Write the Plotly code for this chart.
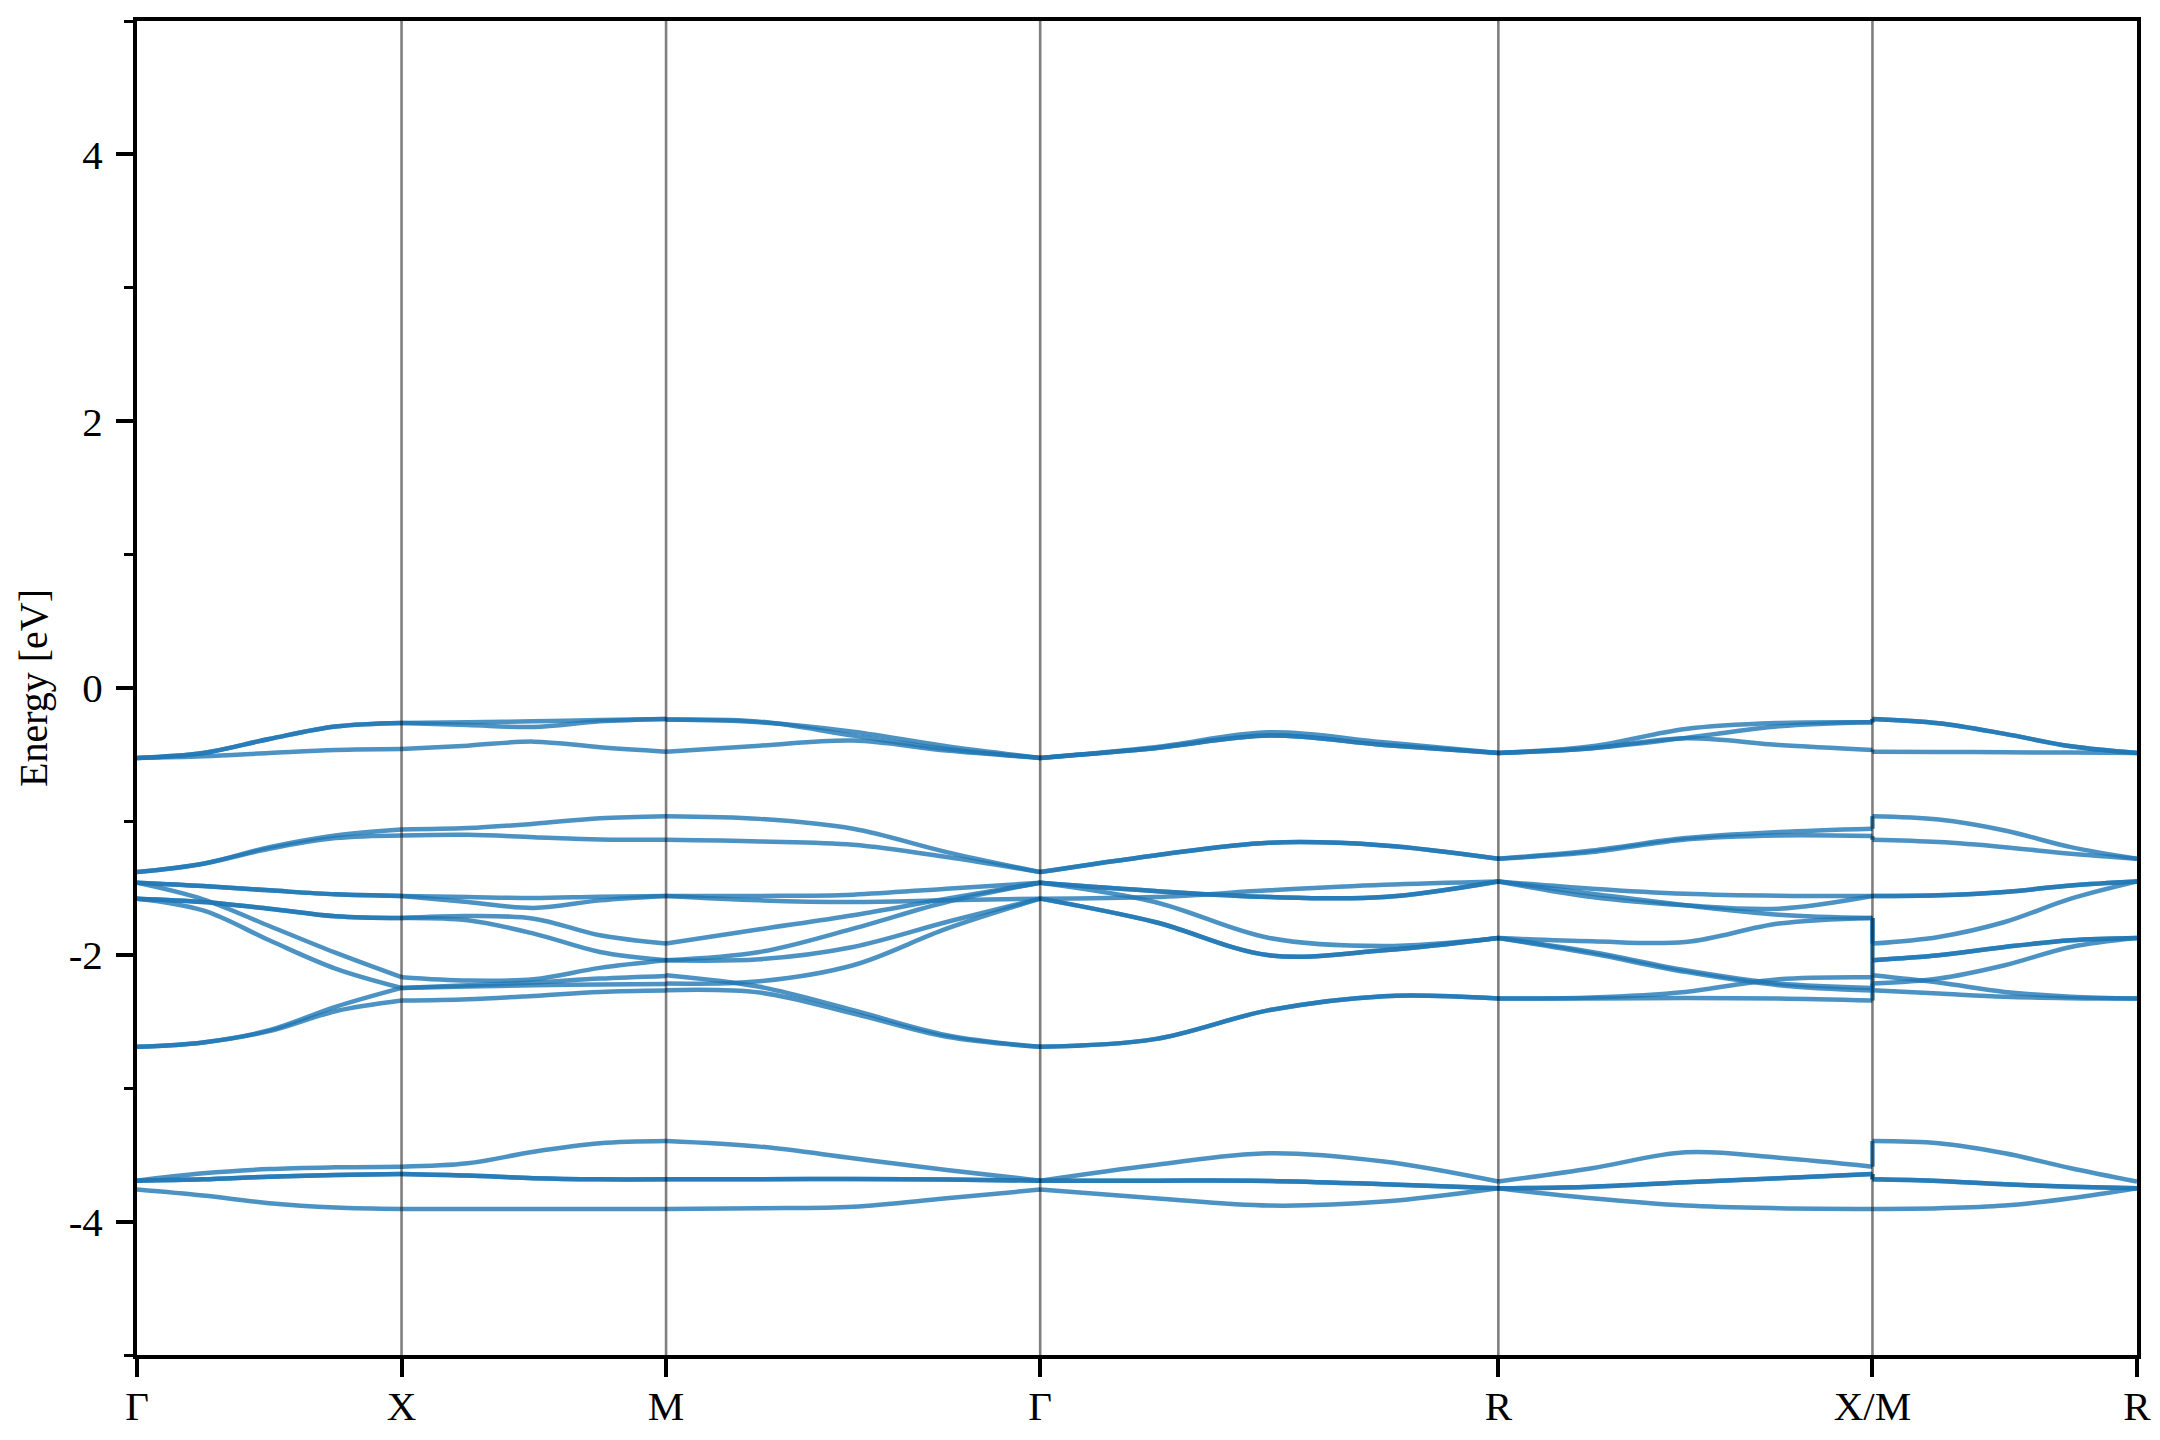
import plotly.graph_objects as go

# ---------------- data ----------------
k_labels = ["Γ", "X", "M", "Γ", "R", "X/M", "R"]
k_ticks = [0.0, 0.5, 1.0, 1.7071, 2.5731, 3.2802, 3.7802]
seg_frac = [0.0, 0.25, 0.5, 0.75, 1.0]
y_tick_vals = [-4, -2, 0, 2, 4]
y_tick_text = ["-4", "-2", "0", "2", "4"]
y_minor_vals = [-5, -3, -1, 1, 3, 5]
y_title = "Energy [eV]"

# energies (eV) at seg_frac positions along each path segment
bands_G_X = [
    [-0.524, -0.487, -0.382, -0.289, -0.262],
    [-0.524, -0.487, -0.382, -0.289, -0.262],
    [-0.524, -0.511, -0.487, -0.464, -0.457],
    [-1.380, -1.317, -1.193, -1.105, -1.060],
    [-1.380, -1.317, -1.205, -1.125, -1.105],
    [-1.460, -1.485, -1.517, -1.547, -1.559],
    [-1.460, -1.485, -1.517, -1.547, -1.559],
    [-1.460, -1.584, -1.784, -1.984, -2.168],
    [-1.579, -1.604, -1.654, -1.711, -1.724],
    [-1.579, -1.604, -1.654, -1.711, -1.724],
    [-1.579, -1.667, -1.891, -2.103, -2.248],
    [-2.690, -2.657, -2.565, -2.390, -2.248],
    [-2.690, -2.657, -2.572, -2.423, -2.343],
    [-3.693, -3.638, -3.606, -3.593, -3.588],
    [-3.693, -3.683, -3.663, -3.651, -3.643],
    [-3.693, -3.683, -3.663, -3.651, -3.643],
    [-3.760, -3.805, -3.862, -3.894, -3.905],
]

bands_X_M = [
    [-0.262, -0.257, -0.250, -0.240, -0.232],
    [-0.262, -0.277, -0.292, -0.250, -0.232],
    [-0.457, -0.432, -0.402, -0.444, -0.477],
    [-1.060, -1.050, -1.018, -0.976, -0.961],
    [-1.105, -1.100, -1.118, -1.135, -1.138],
    [-1.559, -1.567, -1.574, -1.564, -1.559],
    [-1.559, -1.604, -1.649, -1.592, -1.559],
    [-1.724, -1.709, -1.729, -1.854, -1.916],
    [-1.724, -1.741, -1.841, -1.979, -2.041],
    [-2.168, -2.193, -2.183, -2.098, -2.041],
    [-2.248, -2.238, -2.228, -2.223, -2.218],
    [-2.248, -2.228, -2.208, -2.178, -2.158],
    [-2.343, -2.333, -2.308, -2.278, -2.268],
    [-3.588, -3.563, -3.476, -3.413, -3.396],
    [-3.643, -3.655, -3.675, -3.683, -3.683],
    [-3.643, -3.655, -3.675, -3.683, -3.683],
    [-3.905, -3.905, -3.905, -3.905, -3.905],
]

bands_M_G = [
    [-0.237, -0.257, -0.327, -0.437, -0.524],
    [-0.237, -0.252, -0.357, -0.457, -0.524],
    [-0.477, -0.432, -0.394, -0.469, -0.524],
    [-0.961, -0.981, -1.055, -1.230, -1.380],
    [-1.138, -1.150, -1.175, -1.267, -1.380],
    [-1.559, -1.559, -1.549, -1.504, -1.460],
    [-1.559, -1.592, -1.604, -1.592, -1.579],
    [-1.916, -1.809, -1.704, -1.579, -1.460],
    [-2.041, -1.979, -1.804, -1.604, -1.460],
    [-2.041, -2.033, -1.941, -1.754, -1.579],
    [-2.216, -2.198, -2.078, -1.804, -1.579],
    [-2.153, -2.240, -2.415, -2.602, -2.690],
    [-2.265, -2.283, -2.440, -2.615, -2.690],
    [-3.396, -3.438, -3.525, -3.613, -3.693],
    [-3.683, -3.683, -3.680, -3.685, -3.693],
    [-3.683, -3.683, -3.680, -3.685, -3.693],
    [-3.905, -3.900, -3.888, -3.825, -3.760],
]

bands_G_R = [
    [-0.524, -0.451, -0.357, -0.427, -0.487],
    [-0.524, -0.451, -0.357, -0.427, -0.487],
    [-0.524, -0.444, -0.332, -0.407, -0.487],
    [-1.380, -1.255, -1.160, -1.180, -1.280],
    [-1.380, -1.255, -1.160, -1.180, -1.280],
    [-1.460, -1.522, -1.567, -1.567, -1.450],
    [-1.460, -1.522, -1.567, -1.567, -1.450],
    [-1.460, -1.604, -1.874, -1.934, -1.874],
    [-1.579, -1.567, -1.517, -1.475, -1.450],
    [-1.579, -1.754, -2.004, -1.966, -1.874],
    [-1.579, -1.754, -2.004, -1.966, -1.874],
    [-2.690, -2.632, -2.415, -2.310, -2.328],
    [-2.690, -2.632, -2.415, -2.310, -2.328],
    [-3.693, -3.575, -3.488, -3.550, -3.700],
    [-3.693, -3.693, -3.695, -3.720, -3.750],
    [-3.693, -3.693, -3.695, -3.720, -3.750],
    [-3.760, -3.825, -3.880, -3.850, -3.750],
]

bands_R_X = [
    [-0.487, -0.437, -0.307, -0.262, -0.257],
    [-0.487, -0.451, -0.374, -0.287, -0.257],
    [-0.487, -0.451, -0.377, -0.427, -0.464],
    [-1.280, -1.218, -1.125, -1.080, -1.055],
    [-1.280, -1.230, -1.135, -1.105, -1.110],
    [-1.450, -1.504, -1.542, -1.557, -1.559],
    [-1.450, -1.567, -1.629, -1.654, -1.559],
    [-1.450, -1.542, -1.629, -1.699, -1.724],
    [-1.874, -1.899, -1.904, -1.766, -1.724],
    [-1.874, -1.979, -2.116, -2.216, -2.248],
    [-1.874, -1.991, -2.128, -2.228, -2.268],
    [-2.328, -2.320, -2.278, -2.183, -2.168],
    [-2.328, -2.328, -2.323, -2.328, -2.343],
    [-3.700, -3.600, -3.481, -3.521, -3.588],
    [-3.750, -3.738, -3.705, -3.675, -3.643],
    [-3.750, -3.738, -3.705, -3.675, -3.643],
    [-3.750, -3.825, -3.880, -3.900, -3.905],
]

bands_M_R = [
    [-0.232, -0.264, -0.344, -0.437, -0.487],
    [-0.232, -0.264, -0.344, -0.437, -0.487],
    [-0.477, -0.479, -0.482, -0.484, -0.487],
    [-0.961, -0.986, -1.068, -1.193, -1.280],
    [-1.138, -1.155, -1.193, -1.243, -1.280],
    [-1.559, -1.554, -1.529, -1.480, -1.450],
    [-1.559, -1.554, -1.529, -1.480, -1.450],
    [-1.916, -1.866, -1.754, -1.579, -1.450],
    [-2.041, -2.004, -1.941, -1.891, -1.874],
    [-2.041, -2.004, -1.941, -1.891, -1.874],
    [-2.216, -2.178, -2.078, -1.941, -1.874],
    [-2.153, -2.208, -2.278, -2.315, -2.328],
    [-2.265, -2.290, -2.315, -2.325, -2.328],
    [-3.396, -3.413, -3.488, -3.600, -3.700],
    [-3.683, -3.695, -3.720, -3.738, -3.750],
    [-3.683, -3.695, -3.720, -3.738, -3.750],
    [-3.905, -3.900, -3.880, -3.825, -3.750],
]

# ---------------- figure ----------------
band_color = "rgba(31,119,180,0.8)"
line_w = 4.5
fig = go.Figure()

segments = [bands_G_X, bands_X_M, bands_M_G, bands_G_R, bands_R_X, bands_M_R]
for si, bands in enumerate(segments):
    k0, k1 = k_ticks[si], k_ticks[si + 1]
    xs = [k0 + f * (k1 - k0) for f in seg_frac]
    for e in bands:
        fig.add_trace(go.Scatter(
            x=xs, y=e, mode="lines",
            line=dict(color=band_color, width=line_w, shape="spline", smoothing=1.0),
            hoverinfo="skip", showlegend=False))

# vertical jumps at the X/M discontinuity
x_end = sorted(b[-1] for b in bands_R_X)
m_start = sorted(b[0] for b in bands_M_R)
for a, b in zip(x_end, m_start):
    if abs(a - b) > 1e-6:
        fig.add_trace(go.Scatter(
            x=[k_ticks[5], k_ticks[5]], y=[a, b], mode="lines",
            line=dict(color=band_color, width=line_w),
            hoverinfo="skip", showlegend=False))

# high-symmetry vertical lines
for kv in k_ticks[1:-1]:
    fig.add_shape(type="line", xref="x", yref="paper", x0=kv, x1=kv, y0=0, y1=1,
                  line=dict(color="rgba(0,0,0,0.5)", width=2.6), layer="above")

font_family = "Liberation Serif, Times New Roman, serif"

# y-axis title as a rotated annotation for exact placement
fig.add_annotation(text=y_title, xref="paper", yref="paper", x=0, y=0.5,
                   xanchor="center", yanchor="middle", textangle=-90,
                   xshift=-104, showarrow=False,
                   font=dict(family=font_family, size=40, color="black"))

fig.update_layout(
    template="none",
    width=2160, height=1440,
    margin=dict(l=129, r=31, t=13, b=93),
    plot_bgcolor="white", paper_bgcolor="white",
    font=dict(family=font_family, size=41, color="black"),
    showlegend=False,
    xaxis=dict(
        range=[k_ticks[0], k_ticks[-1]],
        tickmode="array", tickvals=k_ticks, ticktext=k_labels,
        showgrid=False, zeroline=False,
        showline=True, linecolor="black", linewidth=4, mirror=True,
        ticks="outside", ticklen=18, tickwidth=3.5, tickcolor="black",
        tickfont=dict(family=font_family, size=41),
        ticklabelstandoff=-6,
        automargin=False,
    ),
    yaxis=dict(
        range=[-5, 5],
        tickmode="array", tickvals=y_tick_vals, ticktext=y_tick_text,
        showgrid=False, zeroline=False,
        showline=True, linecolor="black", linewidth=4, mirror=True,
        ticks="outside", ticklen=17, tickwidth=3.5, tickcolor="black",
        tickfont=dict(family=font_family, size=41),
        ticklabelstandoff=5,
        minor=dict(tickmode="array", tickvals=y_minor_vals, ticks="outside",
                   ticklen=9, tickwidth=3, tickcolor="black", showgrid=False),
        automargin=False,
    ),
)

fig.write_html("out.html")
